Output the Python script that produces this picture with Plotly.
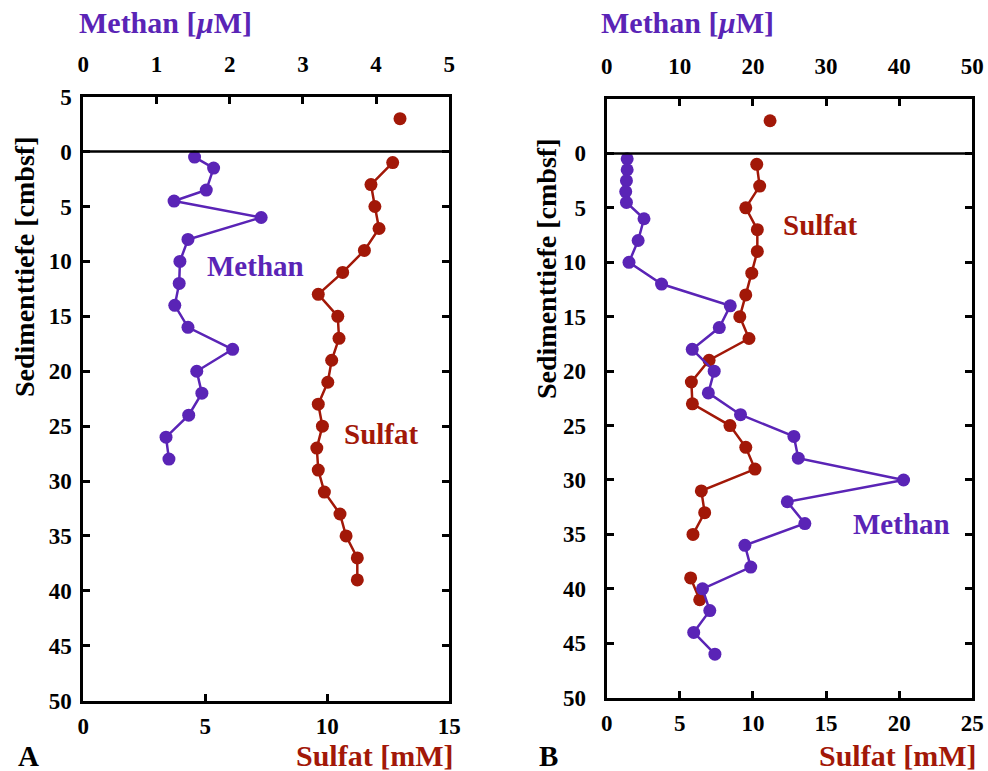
import plotly.graph_objects as go

# ---------------- data ----------------
# Panel A
methan_A_depth = [0.5, 1.5, 3.5, 4.5, 6, 8, 10, 12, 14, 16, 18, 20, 22, 24, 26, 28]
methan_A_conc = [1.52, 1.78, 1.68, 1.24, 2.43, 1.43, 1.32, 1.31, 1.25, 1.43, 2.04, 1.55, 1.62, 1.44, 1.13, 1.17]
sulfat_A_water_depth = [-3]
sulfat_A_water_conc = [12.98]
sulfat_A_depth = [1, 3, 5, 7, 9, 11, 13, 15, 17, 19, 21, 23, 25, 27, 29, 31, 33, 35, 37, 39]
sulfat_A_conc = [12.68, 11.79, 11.95, 12.12, 11.52, 10.63, 9.63, 10.43, 10.48, 10.18, 10.02, 9.63, 9.80, 9.57, 9.63,
                 9.88, 10.52, 10.77, 11.23, 11.23]

# Panel B
methan_B_depth = [0.5, 1.5, 2.5, 3.5, 4.5, 6, 8, 10, 12, 14, 16, 18, 20, 22, 24, 26, 28, 30, 32, 34, 36, 38, 40, 42, 44, 46]
methan_B_conc = [2.8, 2.8, 2.7, 2.6, 2.7, 5.1, 4.3, 3.05, 7.5, 16.9, 15.4, 11.7, 14.7, 13.9, 18.3, 25.6, 26.2, 40.6,
                 24.7, 27.1, 18.9, 19.7, 13.1, 14.1, 11.9, 14.8]
sulfat_B_water_depth = [-3]
sulfat_B_water_conc = [11.17]
sulfat_B_depth = [1, 3, 5, 7, 9, 11, 13, 15, 17, 19, 21, 23, 25, 27, 29, 31, 33, 35, 37, 39, 41]
sulfat_B_conc = [10.26, 10.46, 9.51, 10.3, 10.3, 9.92, 9.51, 9.1, 9.73, 7.0, 5.79, 5.86, 8.43, 9.51, 10.14, 6.47, 6.7,
                 5.9, None, 5.74, 6.36]

depth_ticks_A = [-5, 0, 5, 10, 15, 20, 25, 30, 35, 40, 45, 50]
depth_ticktext_A = ["5", "0", "5", "10", "15", "20", "25", "30", "35", "40", "45", "50"]
depth_ticks_B = [0, 5, 10, 15, 20, 25, 30, 35, 40, 45, 50]

PURPLE = "#5a24b6"
RED = "#a21808"
FONT = "Liberation Serif"

fig = go.Figure()

mk = dict(size=13)
ln = dict(width=2.5)

# Panel A traces
fig.add_trace(go.Scatter(x=methan_A_conc, y=methan_A_depth, mode="lines+markers", xaxis="x2", yaxis="y",
                         line=dict(color=PURPLE, **ln), marker=dict(color=PURPLE, **mk), showlegend=False))
fig.add_trace(go.Scatter(x=sulfat_A_conc, y=sulfat_A_depth, mode="lines+markers", xaxis="x", yaxis="y",
                         line=dict(color=RED, **ln), marker=dict(color=RED, **mk), showlegend=False))
fig.add_trace(go.Scatter(x=sulfat_A_water_conc, y=sulfat_A_water_depth, mode="markers", xaxis="x", yaxis="y",
                         marker=dict(color=RED, **mk), showlegend=False))
# Panel B traces
fig.add_trace(go.Scatter(x=methan_B_conc, y=methan_B_depth, mode="lines+markers", xaxis="x4", yaxis="y2",
                         line=dict(color=PURPLE, **ln), marker=dict(color=PURPLE, **mk), showlegend=False))
fig.add_trace(go.Scatter(x=sulfat_B_conc, y=sulfat_B_depth, mode="lines+markers", xaxis="x3", yaxis="y2",
                         line=dict(color=RED, **ln), marker=dict(color=RED, **mk), showlegend=False,
                         connectgaps=False))
fig.add_trace(go.Scatter(x=sulfat_B_water_conc, y=sulfat_B_water_depth, mode="markers", xaxis="x3", yaxis="y2",
                         marker=dict(color=RED, **mk), showlegend=False))

W, H = 988, 771
xdomA = [83.3 / W, 449.3 / W]
xdomB = [606.7 / W, 972.3 / W]
ydomA = [1 - 700.7 / H, 1 - 96.7 / H]
ydomB = [1 - 697.7 / H, 1 - 99.0 / H]

tickfont = dict(family=FONT, size=23, color="black", weight="bold")
axcommon = dict(showgrid=False, zeroline=False, showline=True, linecolor="black", linewidth=3,
                ticks="inside", ticklen=7, tickwidth=2.5, tickcolor="black", tickfont=tickfont,
                automargin=False)

fig.update_layout(
    width=W, height=H,
    margin=dict(l=0, r=0, t=0, b=0, autoexpand=False),
    paper_bgcolor="white", plot_bgcolor="white",
    xaxis=dict(domain=xdomA, range=[0, 15], tickvals=[0, 5, 10, 15], anchor="y", side="bottom",
               ticklabelstandoff=3, **axcommon),
    xaxis2=dict(range=[0, 5], tickvals=[0, 1, 2, 3, 4, 5], overlaying="x", anchor="y", side="top",
                ticklabelstandoff=13, **axcommon),
    yaxis=dict(domain=ydomA, range=[50, -5], tickvals=depth_ticks_A, ticktext=depth_ticktext_A,
               anchor="x", mirror="ticks", ticklabelstandoff=4, **axcommon),
    xaxis3=dict(domain=xdomB, range=[0, 25], tickvals=[0, 5, 10, 15, 20, 25], anchor="y2", side="bottom",
                ticklabelstandoff=3, **axcommon),
    xaxis4=dict(range=[0, 50], tickvals=[0, 10, 20, 30, 40, 50], overlaying="x3", anchor="y2", side="top",
                ticklabelstandoff=13, **axcommon),
    yaxis2=dict(domain=ydomB, range=[50, -5], tickvals=depth_ticks_B,
                anchor="x3", mirror="ticks", ticklabelstandoff=13, **axcommon),
)

# zero lines
fig.add_shape(type="line", xref="x domain", yref="y", x0=0, x1=1, y0=0, y1=0,
              line=dict(color="black", width=2.5))
fig.add_shape(type="line", xref="x3 domain", yref="y2", x0=0, x1=1, y0=0, y1=0,
              line=dict(color="black", width=2.5))

def txt(x, y, s, color="black", size=30, angle=0):
    fig.add_annotation(x=x / W, y=1 - y / H, xref="paper", yref="paper", text=s, showarrow=False,
                       textangle=angle, xanchor="center", yanchor="middle",
                       font=dict(family=FONT, size=size, color=color, weight="bold"))

txt(165, 22, "Methan [<i>µ</i>M]", PURPLE)
txt(687, 22, "Methan [<i>µ</i>M]", PURPLE)
txt(374, 755, "Sulfat [mM]", RED)
txt(897, 755, "Sulfat [mM]", RED)
txt(24, 267, "Sedimenttiefe [cmbsf]", "black", 28, -90)
txt(546, 269, "Sedimenttiefe [cmbsf]", "black", 28, -90)
txt(28, 756, "A", "black", 29)
txt(548, 756, "B", "black", 29)
txt(255, 266, "Methan", PURPLE, 29)
txt(381, 434, "Sulfat", RED, 29)
txt(820, 225, "Sulfat", RED, 29)
txt(901, 524, "Methan", PURPLE, 29)

fig.write_html("out.html")
